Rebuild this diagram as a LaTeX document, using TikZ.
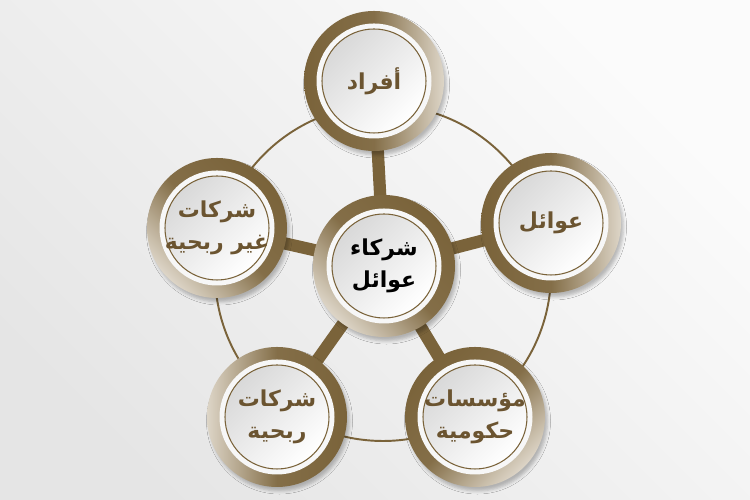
\documentclass[tikz,border=0pt]{standalone}
\usepackage{fontspec}
\newfontfamily\arabicfont[Script=Arabic]{DejaVu Sans}
\TeXXeTstate=1
\usepackage{tikz}
\usetikzlibrary{backgrounds, shadows.blur}
\definecolor{ringdark}{HTML}{7A633A}
\definecolor{ringlight}{HTML}{DDD5C7}
\definecolor{textbrown}{HTML}{6B5430}
\pgfdeclarelayer{spokes}
\pgfsetlayers{background,spokes,main}

\begin{document}
\begin{tikzpicture}[
  bubble/.style={circle, minimum size=2.8cm, inner sep=0pt, align=center,
    top color=ringlight, bottom color=ringdark, middle color=ringdark!90!ringlight,
    shading angle=#1,
    blur shadow={shadow xshift=0.05cm, shadow yshift=-0.08cm, shadow opacity=25},
    font=\arabicfont\bfseries\fontsize{12.5}{18}\selectfont, text=textbrown,
    path picture={
      \fill[gray!6] (path picture bounding box.center) circle (1.15cm);
      \shade[top color=gray!30, bottom color=white, shading angle=45]
        (path picture bounding box.center) circle (1.04cm);
      \draw[ringdark, line width=0.6pt] (path picture bounding box.center) circle (1.04cm);
    }},
  spoke/.style={ringdark, line width=7pt},
  ring/.style={ringdark, line width=1.1pt}]
\useasboundingbox (0,0) rectangle (15,10);

% bubbles
\node[bubble=135, minimum size=2.84cm, text=black] (hub) at (7.68,4.68) {\beginR شركاء\endR\\\beginR عوائل\endR};
\node[bubble=-90] (afrad) at (7.48,8.38) {\beginR أفراد\endR};
\node[bubble=-90] (awael) at (11.02,5.54) {\beginR عوائل\endR};
\node[bubble=-135] (muassasat) at (9.50,1.66) {\beginR مؤسسات\endR\\\beginR حكومية\endR};
\node[bubble=90] (ribhiya) at (5.54,1.66) {\beginR شركات\endR\\\beginR ربحية\endR};
\node[bubble=135] (ghayr) at (4.34,5.44) {\beginR شركات\endR\\\beginR غير ربحية\endR};

% backdrop and outer ring
\begin{pgfonlayer}{background}
\shade[bottom color=gray!20, top color=gray!3, shading angle=-45] (0,0) rectangle (15,10);
\coordinate (ringc) at (7.66,4.54);
\draw[ring] (ringc) circle (3.36);
\end{pgfonlayer}

% spokes
\begin{pgfonlayer}{spokes}
\foreach \n in {afrad,awael,muassasat,ribhiya,ghayr} {
  \draw[spoke] (hub.center) -- (\n.center);
}
\end{pgfonlayer}
\end{tikzpicture}
\end{document}
